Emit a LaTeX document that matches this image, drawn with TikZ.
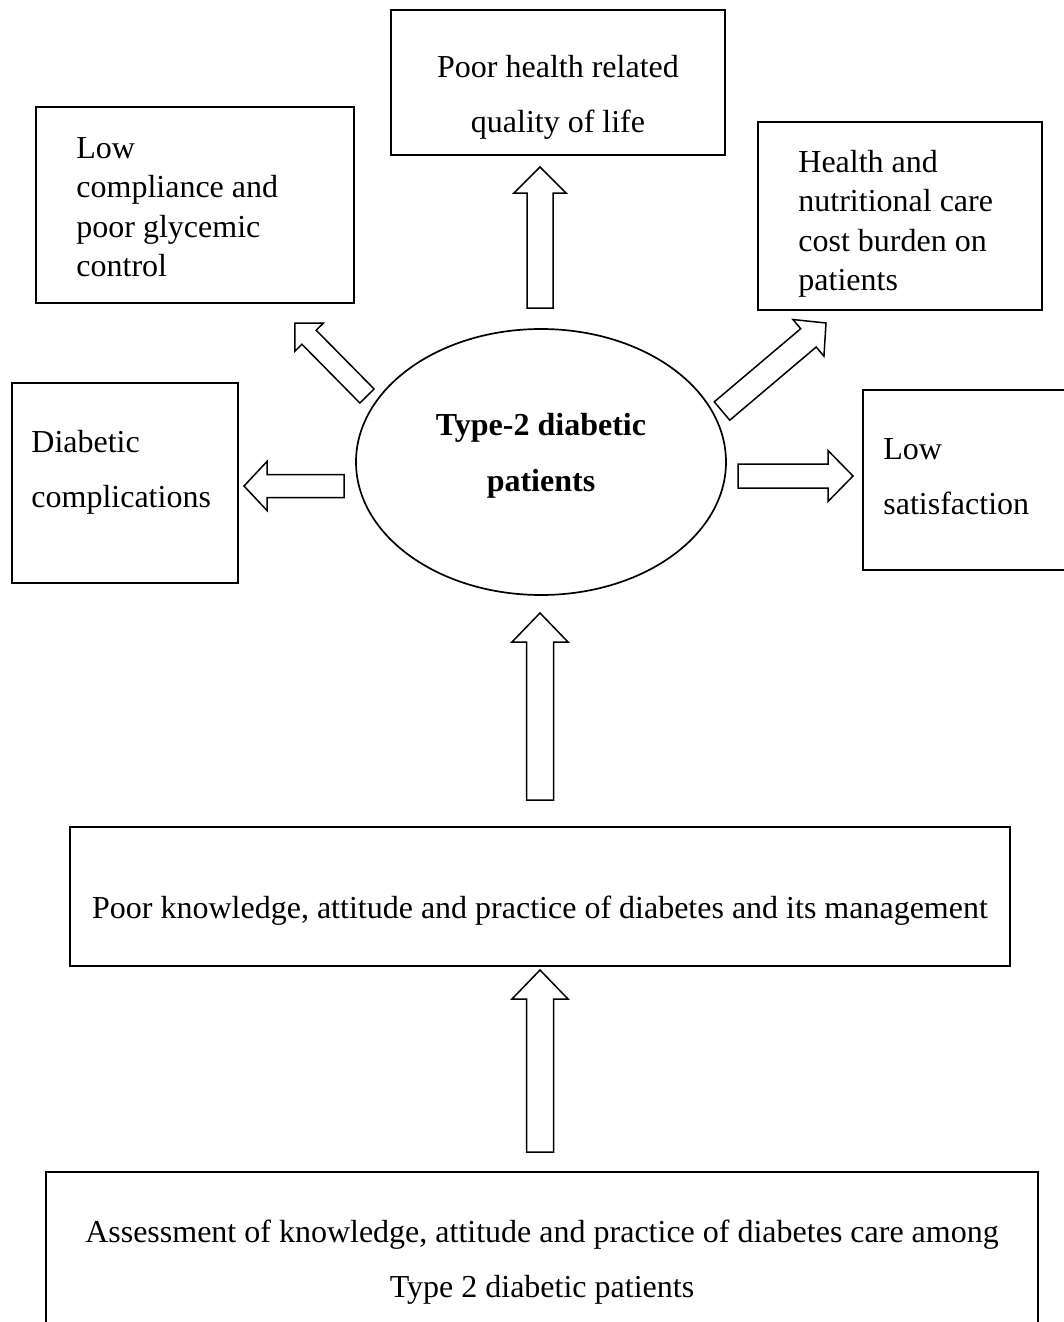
\documentclass[tikz,border=0pt]{standalone}
\usepackage{fontspec}
\setmainfont{Liberation Serif}
\usetikzlibrary{calc}
\usetikzlibrary{shapes.geometric}

\begin{document}
\begin{tikzpicture}[x=0.5pt,y=-0.5pt]
  \tikzset{box/.style={draw, line width=1pt, inner sep=0pt}}
  \tikzset{txt/.style={inner sep=0pt, font=\fontsize{16}{19.75}\selectfont}}
  \tikzset{wide/.style={inner sep=0pt, font=\fontsize{16}{27.5}\selectfont}}
  \tikzset{fat/.style args={#1/#2/#3}{line width=0.75pt, to path={
      ($(\tikztostart)!#1!90:(\tikztotarget)$)
      -- ($(\tikztotarget)!#3!(\tikztostart)!#1!90:(\tikztotarget)$)
      -- ($(\tikztotarget)!#3!(\tikztostart)!#2!90:(\tikztotarget)$)
      -- (\tikztotarget)
      -- ($(\tikztotarget)!#3!(\tikztostart)!#2!-90:(\tikztotarget)$)
      -- ($(\tikztotarget)!#3!(\tikztostart)!#1!-90:(\tikztotarget)$)
      -- ($(\tikztostart)!#1!-90:(\tikztotarget)$) -- cycle}}}
  \useasboundingbox (0,0) rectangle (1064,1322);
  \clip (0,0) rectangle (1064,1322);

  % centre
  \node[draw, ellipse, line width=0.85pt, minimum width=185pt, minimum height=133pt, inner sep=0pt,
    label={[wide, font=\fontsize{16}{28}\selectfont\bfseries, align=center, anchor=base, yshift=3pt]center:{Type-2 diabetic\\patients}}] (core) at (541,462) {};

  % outcomes
  \node[box, minimum width=167pt, minimum height=72.5pt,
    label={[wide, align=center, anchor=base, yshift=-62pt]north:{Poor health related\\quality of life}}] (hrqol) at (558,82.5) {};
  \node[box, minimum width=159pt, minimum height=98pt,
    label={[txt, align=left, anchor=base west, xshift=20.5pt, yshift=-85.25pt]north west:{Low\\compliance and\\poor glycemic\\control}}] (glyc) at (195,205) {};
  \node[box, minimum width=142pt, minimum height=94pt,
    label={[txt, align=left, anchor=base west, xshift=20.5pt, yshift=-84.75pt]north west:{Health and\\nutritional care\\cost burden on\\patients}}] (cost) at (900,216) {};
  \node[box, minimum width=113pt, minimum height=100pt,
    label={[wide, align=left, anchor=base west, xshift=10pt, yshift=-62.5pt]north west:{Diabetic\\complications}}] (compl) at (125,483) {};
  \node[box, minimum width=106pt, minimum height=90pt,
    label={[wide, align=left, anchor=base west, xshift=10.5pt, yshift=-62.5pt]north west:{Low\\satisfaction}}] (satis) at (969,480) {};

  % causes
  \node[box, minimum width=470pt, minimum height=69.5pt,
    label={[txt, anchor=base, yshift=-46pt]north:{Poor knowledge, attitude and practice of diabetes and its management}}] (kap) at (540,896.5) {};
  \node[box, minimum width=496pt, minimum height=84pt,
    label={[wide, align=center, anchor=base, yshift=-63pt]north:{Assessment of knowledge, attitude and practice of diabetes care among\\Type 2 diabetic patients}}] (assess) at (542,1256) {};

  % arrow ends
  \coordinate (qolfrom) at (540,308);   \coordinate (qolto) at (540,167);
  \coordinate (glycfrom) at (367,396);  \coordinate (glycto) at (295,323);
  \coordinate (costfrom) at (722,411);  \coordinate (costto) at (826,323);
  \coordinate (complfrom) at (344,486); \coordinate (complto) at (244,486);
  \coordinate (satisfrom) at (738,476); \coordinate (satisto) at (853,476);
  \coordinate (corefrom) at (540,800);  \coordinate (coreto) at (540,613);
  \coordinate (kapfrom) at (540,1152);  \coordinate (kapto) at (540,970);

  \draw[fat=6.5pt/13pt/13pt] (qolfrom) to (qolto);
  \draw[fat=5pt/10pt/10pt] (glycfrom) to (glycto);
  \draw[fat=6pt/12pt/11.5pt] (costfrom) to (costto);
  \draw[fat=5.75pt/12.25pt/11.5pt] (complfrom) to (complto);
  \draw[fat=6pt/12.75pt/12.5pt] (satisfrom) to (satisto);
  \draw[fat=6.75pt/14pt/14.5pt] (corefrom) to (coreto);
  \draw[fat=6.75pt/14pt/14.5pt] (kapfrom) to (kapto);
\end{tikzpicture}
\end{document}
